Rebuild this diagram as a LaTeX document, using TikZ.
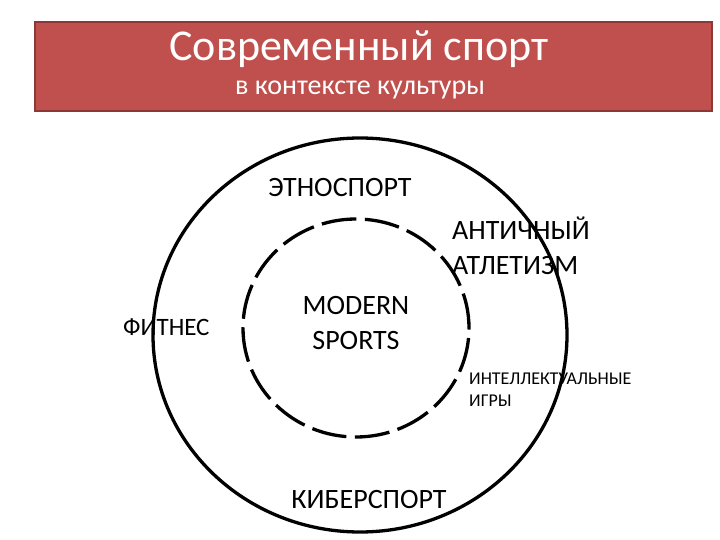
\documentclass[tikz,border=0pt]{standalone}
\usepackage{fontspec}
\setmainfont{Carlito}
\definecolor{banner}{HTML}{C0504D}
\definecolor{bannerline}{HTML}{8C3836}
\begin{document}
\begin{tikzpicture}[x=1pt,y=-1pt,
  lbl/.style={inner sep=0pt, text=black, font=\fontsize{28}{35}\selectfont, align=left},
  ring/.style={draw=black, line width=3.3pt},
  dashring/.style={draw=black, line width=3.3pt, dash pattern=on 35pt off 8.5pt}]
\useasboundingbox (0,0) rectangle (720,540);
\fill[white] (0,0) rectangle (720,540);
\node[draw=bannerline, fill=banner, line width=1.5pt, minimum width=677pt, minimum height=89pt, inner sep=0pt] (banner) at (373.5,66.5) {};
\node[text=white, inner sep=0pt, font=\fontsize{44}{48}\selectfont] (title) at (359,49) {Современный спорт};
\node[text=white, inner sep=0pt, font=\fontsize{28}{32}\selectfont] (subtitle) at (360,90) {в контексте культуры};
\path[ring] (360,335) ellipse [x radius=207pt, y radius=197pt];
\path[dashring] (356,328) ellipse [x radius=113pt, y radius=109pt];
\node[lbl] (etno) at (340,188) {ЭТНОСПОРТ};
\node[lbl, anchor=west, align=left] (antich) at (452,246) {АНТИЧНЫЙ\\АТЛЕТИЗМ};
\node[lbl, align=center] (modern) at (356,323) {MODERN\\SPORTS};
\node[lbl, anchor=west, font=\fontsize{25}{30}\selectfont] (fitnes) at (123,327) {ФИТНЕС};
\node[lbl, anchor=west, font=\fontsize{18}{22}\selectfont] (intel) at (469,390) {ИНТЕЛЛЕКТУАЛЬНЫЕ\\ИГРЫ};
\node[lbl] (kiber) at (369,500) {КИБЕРСПОРТ};
\end{tikzpicture}
\end{document}
